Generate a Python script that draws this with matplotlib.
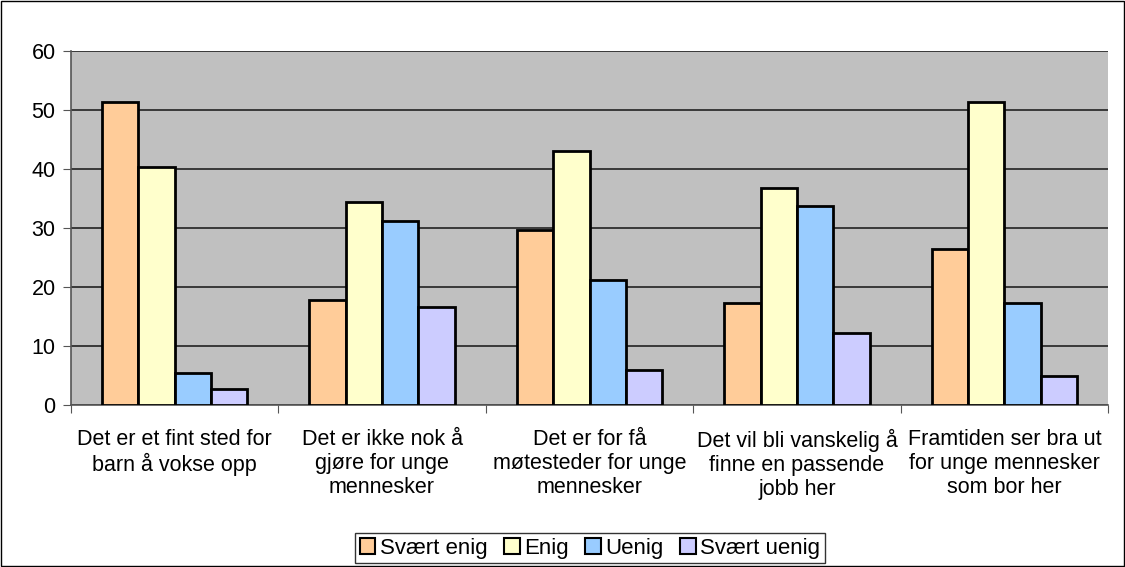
import matplotlib
matplotlib.use('Agg')
import matplotlib.pyplot as plt
import numpy as np

plt.rcParams['font.family'] = ['Liberation Sans', 'DejaVu Sans']

# Kategorier og verdier
kategorier = ['Det er et fint sted for\nbarn å vokse opp',
              'Det er ikke nok å\ngjøre for unge\nmennesker',
              'Det er for få\nmøtesteder for unge\nmennesker',
              'Det vil bli vanskelig å\nfinne en passende\njobb her',
              'Framtiden ser bra ut\nfor unge mennesker\nsom bor her']
serier = ['Svært enig', 'Enig', 'Uenig', 'Svært uenig']
svaert_enig = [51.4, 17.8, 29.7, 17.3, 26.4]
enig = [40.3, 34.4, 43.1, 36.8, 51.4]
uenig = [5.4, 31.2, 21.2, 33.7, 17.3]
svaert_uenig = [2.7, 16.6, 5.9, 12.2, 4.9]
farger = ['#FFCC99', '#FFFFCC', '#99CCFF', '#CCCCFF']

verdier = [svaert_enig, enig, uenig, svaert_uenig]

fig = plt.figure(figsize=(11.25, 5.67), dpi=100)
ax = fig.add_axes([0.063, 0.2857, 0.922, 0.6243])
ax.set_facecolor('#C0C0C0')

x = np.arange(len(kategorier))
bredde = 0.175
for i, (navn, vals) in enumerate(zip(serier, verdier)):
    ax.bar(x + (i - 1.5) * bredde, vals, bredde, color=farger[i],
           edgecolor='black', linewidth=2, label=navn, zorder=3)

ax.set_xlim(-0.5, len(kategorier) - 0.5)
ax.set_ylim(0, 60)
ax.set_yticks(range(0, 61, 10))
ax.yaxis.grid(True, color='#222222', linewidth=1.2, zorder=0)
ax.set_axisbelow(True)

# tick-merker mellom kategoriene
ax.set_xticks(np.arange(-0.5, len(kategorier), 1))
ax.set_xticklabels([])
ax.set_xticks(x, minor=True)
ax.set_xticklabels(kategorier, minor=True, fontsize=15.5, linespacing=1.2)
ax.tick_params(axis='x', which='minor', length=0, pad=17)
ax.tick_params(axis='x', which='major', length=6, color='#555555', direction='out')
ax.tick_params(axis='y', length=6, color='#555555', labelsize=15.5, pad=5)

for s in ['top', 'right']:
    ax.spines[s].set_visible(False)
ax.spines['left'].set_color('#555555')
ax.spines['bottom'].set_color('#555555')
ax.spines['left'].set_linewidth(1.2)
ax.spines['bottom'].set_linewidth(1.2)

leg = ax.legend(loc='center', bbox_to_anchor=(0.5245, 0.0335), bbox_transform=fig.transFigure,
                ncol=4, fontsize=16, frameon=True, fancybox=False, edgecolor='black',
                handlelength=0.7, handleheight=0.7, handletextpad=0.2, columnspacing=0.75,
                borderpad=0.22)
leg.get_frame().set_linewidth(1)
for h in leg.legend_handles:
    h.set_linewidth(1.5)

# ramme rundt hele figuren
fig.patches.append(plt.Rectangle((0.001, 0.002), 0.998, 0.996, transform=fig.transFigure,
                                 fill=False, edgecolor='black', linewidth=1))

fig.savefig('out.png', dpi=100)
